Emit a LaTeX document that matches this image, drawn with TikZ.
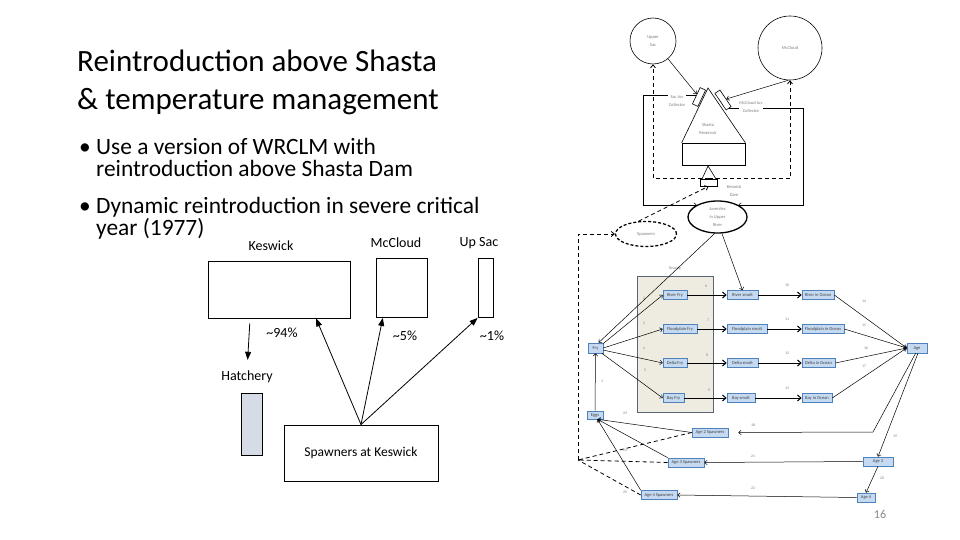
\documentclass[tikz,border=0pt]{standalone}
\usepackage{fontspec}
\setmainfont{Carlito}
\usetikzlibrary{arrows.meta,positioning,shapes.geometric}

\definecolor{stagefill}{RGB}{197,217,241}
\definecolor{stageline}{RGB}{79,129,189}
\definecolor{rearfill}{RGB}{238,236,225}
\definecolor{rearline}{RGB}{90,100,120}
\definecolor{hatchfill}{RGB}{214,220,229}
\definecolor{labgray}{RGB}{125,125,125}
\definecolor{pagegray}{RGB}{137,137,137}

\tikzset{
  heading/.style={inner sep=0pt, font=\fontsize{31}{38}\selectfont},
  bulletline/.style={inner sep=0pt, font=\fontsize{23.4}{28}\selectfont},
  site/.style={inner sep=0pt, font=\fontsize{14}{16}\selectfont},
  plainbox/.style={rectangle, draw, line width=0.9pt, inner sep=0pt, font=\fontsize{13.5}{16}\selectfont},
  arr/.style={-{Triangle[length=8pt,width=6pt]}, line width=0.8pt},
  flow/.style={-{Straight Barb[length=2.5pt,width=4.5pt]}, line width=0.5pt},
  bigflow/.style={-{Straight Barb[length=3.5pt,width=6pt]}, line width=1pt},
  dashline/.style={line width=0.8pt, dash pattern=on 4pt off 3pt},
  dashflow/.style={dashline, -{Straight Barb[length=3pt,width=5pt]}},
  stage/.style={rectangle, draw=stageline, fill=stagefill, line width=0.6pt, minimum height=9pt, inner sep=0pt, font=\fontsize{4.5}{5}\selectfont, text=black!75},
  collector/.style={rectangle, draw, fill=white, line width=0.6pt, minimum height=6pt, inner sep=0pt},
  tinytext/.style={font=\fontsize{4.5}{8}\selectfont, text=labgray, align=center, inner sep=0.5pt},
  numlab/.style={font=\fontsize{3.8}{4}\selectfont, text=labgray, inner sep=0pt}
}

\begin{document}
\begin{tikzpicture}[x=1pt,y=-1pt]
  % Page
  \fill[white] (0,0) rectangle (960,540);
  \useasboundingbox (0,0) rectangle (960,540);

  % Title and bullets
  \node[heading, anchor=base west] (title1) at (77,72) {Reintroduction above Shasta};
  \node[heading, anchor=base west] (title2) at (77,110) {\& temperature management};
  \node[bulletline, anchor=base west] (bul1) at (79,155) {\makebox[17pt][l]{\textbullet}Use a version of WRCLM with};
  \node[bulletline, anchor=base west] (bul1b) at (96,177) {reintroduction above Shasta Dam};
  \node[bulletline, anchor=base west] (bul2) at (79,213) {\makebox[17pt][l]{\textbullet}Dynamic reintroduction in severe critical};
  \node[bulletline, anchor=base west] (bul2b) at (96,235) {year (1977)};

  % Spawner distribution
  \node[site] (keslab) at (271,246) {Keswick};
  \node[site] (mcllab) at (396,243) {McCloud};
  \node[site] (upslab) at (479,243) {Up Sac};
  \node[plainbox, minimum width=142pt, minimum height=57pt] (kesw) at (279,289.5) {};
  \node[plainbox, minimum width=51pt, minimum height=59pt] (mcl) at (401.5,288) {};
  \node[plainbox, minimum width=15pt, minimum height=59pt] (ups) at (485.5,288) {};
  \node[site] (p94) at (282,333) {\textasciitilde94\%};
  \node[site] (p5) at (405,336) {\textasciitilde5\%};
  \node[site] (p1) at (492,336) {\textasciitilde1\%};
  \node[site] (hatlab) at (247,377) {Hatchery};
  \node[plainbox, fill=hatchfill, minimum width=21pt, minimum height=62pt] (hatch) at (251.5,424) {};
  \node[plainbox, minimum width=154pt, minimum height=56pt] (spk) at (361,453) {Spawners at Keswick};

  \draw[arr, shorten <=5pt, shorten >=11pt] (kesw.225) -- (hatlab.north);
  \draw[arr] (spk.north) -- (kesw.-38);
  \draw[arr] (spk.north) -- (mcl.238);
  \draw[arr] (spk.north) -- (ups.south west);

  % Upper basin
  \node[circle, draw, line width=0.6pt, minimum size=46pt, tinytext] (usac) at (653,41) {Upper\\Sac};
  \node[circle, draw, line width=0.6pt, minimum size=64pt, tinytext] (mccl) at (790,48) {McCloud};

  % Shasta and Keswick
  \node[draw, line width=0.6pt, minimum width=63pt, minimum height=22pt, inner sep=0pt] (res) at (713.5,154) {};
  \coordinate (apex) at (708,88);
  \draw[line width=0.6pt] (res.north west) -- (apex) -- (res.north east);
  \node[tinytext] (reslab) at (708,129) {Shasta\\Reservoir};
  \node[collector, minimum width=18pt, rotate=64.7] (sacc) at (699,97) {};
  \node[collector, minimum width=20pt, rotate=-56] (mccc) at (723,100) {};
  \node[draw, line width=0.6pt, minimum width=17pt, minimum height=7pt, inner sep=0pt] (kdam) at (708.5,182.5) {};
  \draw[line width=0.6pt] (702,179) -- (708,166) -- (716,179);
  \node[tinytext] (kdamlab) at (734,191) {Keswick\\Dam};

  \node[ellipse, draw, line width=1.3pt, minimum width=59pt, minimum height=32pt, tinytext] (juv) at (717.5,217) {Juveniles\\in Upper\\River};
  \node[ellipse, draw, line width=1.3pt, dash pattern=on 3pt off 2pt, minimum width=61pt, minimum height=25pt, tinytext] (spawn) at (646,234) {Spawners};

  % Trap and haul
  \draw[dashflow] (kdam.north) -| (usac.south);
  \draw[dashflow] (kdam.north) -| (mccl.south);
  \draw[dashflow] (spawn.120) -- (kdam.south);
  \draw[flow] (usac.-50) -- (sacc);
  \draw[flow] (mccl.-93) -- (mccc);
  \draw[flow] (sacc.north) -- ++(-53,0) |- (juv.150);
  \draw[flow] (mccc.east) -- ++(74,0) |- (juv.30);
  \node[tinytext, fill=white] (saclab) at (677,101) {Sac Juv\\Collector};
  \node[tinytext, fill=white] (mcclab) at (751,107) {McCloud Juv\\Collector};

  % Rearing habitats
  \node[draw=rearline, fill=rearfill, line width=0.6pt, minimum width=76pt, minimum height=136pt, inner sep=0pt] (rear) at (675,344) {};
  \node[numlab, above=5pt of rear] (rearlab) {Rearing};

  \node[stage, minimum width=15pt, minimum height=10pt] (fry) at (595.5,348) {Fry};
  \node[stage, minimum width=16pt, minimum height=8pt] (eggs) at (595,415) {Eggs};
  \node[stage, minimum width=24pt] (rfry) at (675,295) {River Fry};
  \node[stage, minimum width=34pt] (ffry) at (680,329) {Floodplain Fry};
  \node[stage, minimum width=24pt] (dfry) at (675,363) {Delta Fry};
  \node[stage, minimum width=21pt] (bfry) at (673.5,398) {Bay Fry};
  \node[stage, minimum width=31pt] (rsmolt) at (742.5,295) {River smolt};
  \node[stage, minimum width=40pt] (fsmolt) at (747,329) {Floodplain smolt};
  \node[stage, minimum width=31pt] (dsmolt) at (742.5,363) {Delta smolt};
  \node[stage, minimum width=28pt] (bsmolt) at (741,398) {Bay smolt};
  \node[stage, minimum width=32pt] (rocean) at (818,295) {River in Ocean};
  \node[stage, minimum width=42pt] (focean) at (823,329) {Floodplain in Ocean};
  \node[stage, minimum width=33pt] (docean) at (818.5,363) {Delta in Ocean};
  \node[stage, minimum width=30pt] (bocean) at (817,398) {Bay in Ocean};
  \node[stage, minimum width=20pt, minimum height=10pt] (age) at (917,348) {Age};
  \node[stage, minimum width=30pt] (age3) at (878,461.5) {Age 3};
  \node[stage, minimum width=18pt] (age4) at (866,497.5) {Age 4};
  \node[stage, minimum width=36pt] (sp2) at (710,432.5) {Age 2 Spawners};
  \node[stage, minimum width=36pt] (sp3) at (686,462.5) {Age 3 Spawners};
  \node[stage, minimum width=36pt] (sp4) at (659,495) {Age 4 Spawners};

  % Life cycle
  \draw[flow] (juv.-100) -- (fry.60);
  \draw[flow] (juv.-75) -- (rsmolt.north);
  \draw[flow] (eggs) -- (fry);
  \draw[flow] (fry.30) -- (rfry.west);
  \draw[flow] (fry.east) -- (ffry.west);
  \draw[flow] (fry.-15) -- (dfry.west);
  \draw[flow] (fry.-40) -- (bfry.west);
  \foreach \rw in {r,f,d,b} {
    \draw[bigflow] (\rw fry) -- (\rw smolt);
    \draw[bigflow] (\rw smolt) -- (\rw ocean);
    \draw[flow] (\rw ocean.east) -- (age.west);
  }
  \coordinate (a2turn) at (873,432);
  \draw[flow, shorten >=10pt] (age.-105) -- (a2turn) -- (sp2.east);
  \draw[flow] (age.-80) -- (age3.north);
  \draw[flow] (age3.south) -- (age4.north);
  \draw[flow] (age3.west) -- (sp3.east);
  \draw[flow] (age4.west) -- (sp4.east);
  \draw[flow] (sp2.west) -- (eggs.-60);
  \draw[flow] (sp3.north west) -- (eggs.-60);
  \draw[flow] (sp4.north west) -- (eggs.-60);

  % Return of spawners
  \coordinate (djoin) at (578,460);
  \draw[dashline] (sp2.west) -- (djoin);
  \draw[dashline] (sp3.west) -- (djoin);
  \draw[dashline] (sp4.west) -- (djoin);
  \draw[dashflow] (djoin) |- (spawn.west);

  % Transition numbers
  \foreach \n/\x/\y in {1/602/381, 2/644/298, 3/644/323, 4/644/348, 5/645/370,
      6/706/286, 7/708/320, 8/707/355, 9/709/390, 10/787/285, 11/787/319,
      12/787/353, 13/787/388, 14/864/301, 15/864/325, 16/866/348, 17/864/366,
      18/753/425, 19/895/436, 20/882/478, 21/753/456, 22/753/488,
      23/625/413, 24/625/450, 25/625/492}
    \node[numlab] (n\n) at (\x,\y) {\n};

  \node[font=\fontsize{12}{14}\selectfont, text=pagegray, inner sep=0pt] (pagenum) at (880,514) {16};
\end{tikzpicture}
\end{document}
